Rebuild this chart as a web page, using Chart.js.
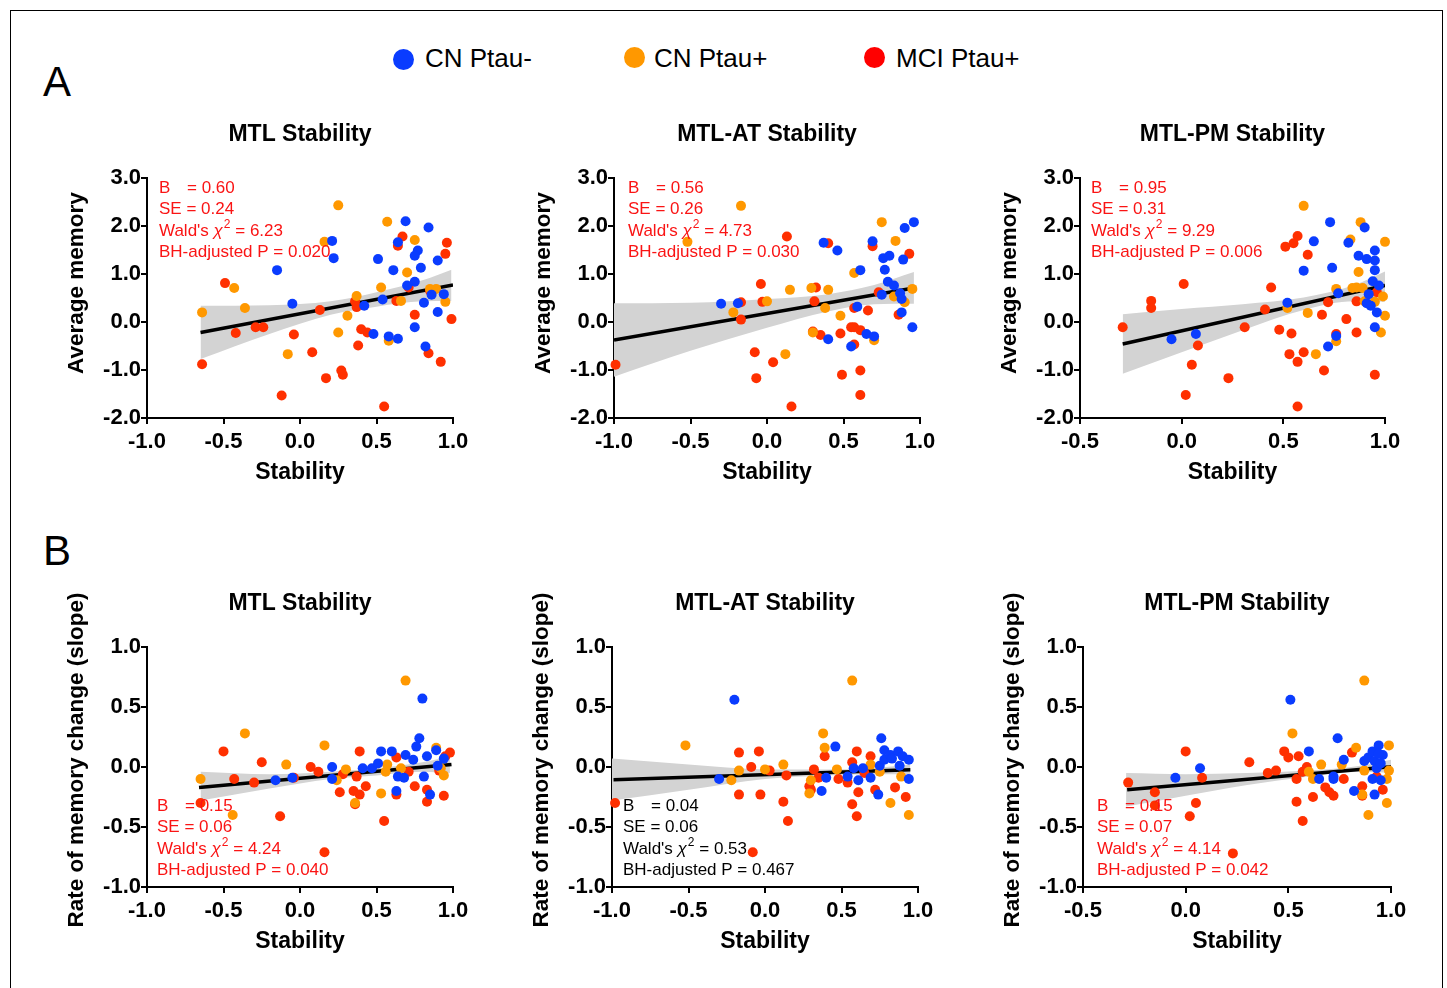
<!DOCTYPE html>
<html>
<head>
<meta charset="utf-8">
<script src="https://cdn.jsdelivr.net/npm/chart.js@4.4.1/dist/chart.umd.min.js"></script>
<style>
html, body { margin: 0; padding: 0; overflow: hidden; background: #fff; }
body { font-family: "Liberation Sans", Arial, Helvetica, sans-serif; width: 1447px; height: 988px; position: relative; }
#frame { position: absolute; left: 10px; top: 10px; width: 1431px; height: 1000px; border: 1.5px solid #000; border-bottom: none; }
canvas { position: absolute; }
.dot { position: absolute; width: 21px; height: 21px; border-radius: 50%; }
.lg { position: absolute; font-size: 26px; line-height: 30px; top: 43px; color: #000; }
.panel-letter { position: absolute; font-size: 42px; line-height: 42px; left: 43px; color: #000; }
</style>
</head>
<body>
<div id="frame"></div>
<div class="panel-letter" style="top:61px">A</div>
<div class="panel-letter" style="top:530px">B</div>
<div class="dot" style="left:393px;top:49px;background:#0a3cff"></div>
<div class="lg" style="left:425px">CN Ptau-</div>
<div class="dot" style="left:624px;top:47px;background:#ff9800"></div>
<div class="lg" style="left:654px">CN Ptau+</div>
<div class="dot" style="left:864px;top:47px;background:#ff0000"></div>
<div class="lg" style="left:896px">MCI Ptau+</div>

<script>
// group colours
var BLUE = '#0a3cff', ORANGE = '#ff9800', RED = '#ff3000';

// ---- A: average memory vs stability ----
var a1Blue = [[-0.15,1.08],[-0.05,0.38],[0.21,1.69],[0.22,1.33],[0.42,0.34],[0.48,-0.25],[0.51,1.31],[0.54,0.47],[0.58,-0.30],[0.61,1.08],[0.64,1.66],[0.64,-0.35],[0.69,2.10],[0.70,0.76],[0.75,0.84],[0.75,-0.11],[0.77,1.49],[0.75,1.38],[0.79,1.13],[0.81,0.40],[0.82,-0.51],[0.84,1.97],[0.86,0.57],[0.90,1.28],[0.90,0.21],[0.94,0.58]];
var a1Orange = [[-0.64,0.20],[-0.43,0.71],[-0.36,0.29],[-0.08,-0.67],[0.16,1.67],[0.25,2.43],[0.25,-0.22],[0.31,0.13],[0.37,0.54],[0.53,0.72],[0.57,2.09],[0.58,-0.39],[0.66,0.44],[0.70,1.03],[0.75,1.71],[0.85,0.69],[0.89,0.69],[0.95,0.42]];
var a1Red = [[-0.64,-0.88],[-0.49,0.81],[-0.42,-0.23],[-0.29,-0.11],[-0.24,-0.11],[-0.12,-1.53],[-0.04,-0.26],[0.08,-0.63],[0.13,0.25],[0.17,-1.17],[0.27,-1.01],[0.28,-1.10],[0.38,-0.49],[0.37,0.31],[0.40,-0.15],[0.44,-0.22],[0.55,-1.76],[0.63,0.44],[0.64,1.59],[0.67,1.78],[0.71,0.72],[0.75,0.15],[0.84,-0.65],[0.92,-0.83],[0.96,1.65],[0.95,1.42],[0.99,0.06],[0.36,0.43],[0.85,0.65]];
var a1Fit = [[-0.65,-0.22],[1.0,0.77]];
var a1BandX = [-0.65,-0.2,0.2,0.5,0.8,0.99];
var a1BandUp = [0.34,0.35,0.43,0.62,0.87,1.09];
var a1BandLo = [-0.77,-0.25,0.15,0.32,0.43,0.44];
var a1Stats = ['0.60','0.24','6.23','0.020'];

var a2Blue = [[-0.30,0.38],[-0.19,0.39],[0.37,1.65],[0.40,-0.36],[0.46,1.49],[0.55,-0.51],[0.59,0.32],[0.61,1.08],[0.65,-0.25],[0.70,-0.30],[0.69,1.68],[0.75,0.57],[0.76,1.33],[0.80,1.38],[0.77,1.09],[0.79,0.84],[0.83,0.76],[0.87,0.60],[0.88,0.48],[0.88,0.20],[0.89,1.30],[0.90,1.96],[0.95,-0.11],[0.96,2.08]];
var a2Orange = [[-0.52,1.67],[-0.17,2.42],[-0.22,0.20],[0.00,0.43],[0.15,0.67],[0.12,-0.67],[0.29,0.71],[0.30,-0.22],[0.40,0.67],[0.38,0.29],[0.48,0.13],[0.57,1.02],[0.70,-0.38],[0.75,2.08],[0.84,1.69],[0.83,0.53],[0.90,0.41],[0.95,0.69]];
var a2Red = [[-0.99,-0.89],[-0.17,0.41],[-0.17,0.05],[-0.04,0.79],[-0.03,0.42],[-0.08,-0.63],[-0.07,-1.17],[0.04,-0.84],[0.13,1.78],[0.16,-1.76],[0.31,0.43],[0.32,0.72],[0.35,-0.27],[0.40,1.64],[0.48,-0.24],[0.49,-1.10],[0.55,-0.11],[0.57,-0.11],[0.61,-0.17],[0.57,-0.47],[0.57,0.29],[0.61,-1.01],[0.61,-1.52],[0.66,0.24],[0.69,1.58],[0.73,0.62],[0.86,0.15],[0.93,1.42],[0.30,-0.20]];
var a2Fit = [[-1.0,-0.375],[0.96,0.71]];
var a2BandX = [-1.0,-0.5,0.0,0.4,0.7,0.96];
var a2BandUp = [0.39,0.40,0.48,0.58,0.77,1.04];
var a2BandLo = [-1.14,-0.60,-0.12,0.22,0.37,0.38];
var a2Stats = ['0.56','0.26','4.73','0.030'];

var a3Blue = [[-0.05,-0.36],[0.07,-0.25],[0.52,0.40],[0.60,1.07],[0.65,1.68],[0.73,2.08],[0.74,1.13],[0.72,-0.51],[0.76,-0.29],[0.77,0.60],[0.82,1.65],[0.87,1.38],[0.90,1.97],[0.91,1.31],[0.95,1.28],[0.95,1.49],[0.95,1.08],[0.94,0.85],[0.97,0.76],[0.92,0.58],[0.91,0.39],[0.93,0.34],[0.96,0.20],[0.95,-0.11]];
var a3Orange = [[0.52,0.29],[0.60,2.42],[0.62,0.19],[0.66,-0.67],[0.76,0.69],[0.76,-0.40],[0.83,1.72],[0.84,0.71],[0.86,0.72],[0.87,1.04],[0.88,2.08],[0.89,0.71],[0.90,0.43],[0.95,0.42],[0.98,-0.22],[0.99,0.53],[1.00,0.13],[1.00,1.67]];
var a3Red = [[-0.29,-0.11],[-0.15,0.44],[-0.15,0.29],[0.01,0.79],[0.02,-1.52],[0.05,-0.89],[0.08,-0.49],[0.23,-1.17],[0.31,-0.11],[0.41,0.26],[0.44,0.72],[0.48,-0.16],[0.51,1.57],[0.53,-0.67],[0.54,-0.24],[0.55,1.64],[0.57,1.79],[0.57,-0.83],[0.60,-0.63],[0.57,-1.76],[0.62,1.40],[0.69,0.15],[0.70,-1.01],[0.72,0.41],[0.76,-0.25],[0.81,0.06],[0.86,-0.22],[0.86,0.43],[0.95,-1.10],[0.96,0.62]];
var a3Fit = [[-0.29,-0.46],[1.0,0.76]];
var a3BandX = [-0.29,0.0,0.3,0.6,0.85,1.0];
var a3BandUp = [0.16,0.27,0.37,0.51,0.77,1.05];
var a3BandLo = [-1.08,-0.63,-0.17,0.25,0.43,0.42];
var a3Stats = ['0.95','0.31','9.29','0.006'];

// ---- B: rate of memory change vs stability ----
var b1Blue = [[-0.16,-0.11],[-0.05,-0.09],[0.21,0.00],[0.21,-0.10],[0.41,-0.01],[0.47,-0.01],[0.51,0.03],[0.53,0.13],[0.60,0.13],[0.63,-0.20],[0.64,-0.08],[0.68,-0.09],[0.69,0.10],[0.74,0.06],[0.76,0.17],[0.78,0.24],[0.80,0.57],[0.81,-0.08],[0.83,0.09],[0.85,-0.23],[0.89,0.14],[0.90,0.01],[0.94,0.07]];
var b1Orange = [[-0.65,-0.10],[-0.44,-0.40],[-0.36,0.28],[-0.09,0.02],[0.16,0.18],[0.24,-0.11],[0.30,-0.02],[0.36,-0.30],[0.53,-0.22],[0.56,-0.04],[0.57,0.02],[0.66,-0.01],[0.69,0.72],[0.89,0.16],[0.94,-0.07],[0.92,-0.01]];
var b1Red = [[-0.65,-0.30],[-0.50,0.13],[-0.43,-0.10],[-0.30,-0.13],[-0.25,0.04],[-0.13,-0.41],[-0.04,-0.09],[0.07,0.00],[0.12,-0.04],[0.16,-0.71],[0.26,-0.21],[0.28,-0.06],[0.35,-0.20],[0.36,-0.31],[0.37,-0.08],[0.39,-0.23],[0.39,0.13],[0.43,-0.16],[0.55,-0.45],[0.63,-0.23],[0.63,0.08],[0.71,-0.04],[0.75,-0.16],[0.83,-0.29],[0.83,-0.19],[0.91,-0.03],[0.94,-0.24],[0.95,0.09],[0.98,0.12]];
var b1Fit = [[-0.66,-0.17],[0.99,0.02]];
var b1BandX = [-0.65,-0.2,0.2,0.5,0.8,0.98];
var b1BandUp = [-0.04,-0.06,-0.04,-0.01,0.04,0.09];
var b1BandLo = [-0.28,-0.18,-0.10,-0.07,-0.04,-0.05];
var b1Stats = ['0.15','0.06','4.24','0.040'];

var b2Blue = [[-0.20,0.56],[-0.30,-0.10],[0.37,-0.20],[0.40,-0.09],[0.46,0.17],[0.54,-0.08],[0.58,-0.01],[0.61,-0.11],[0.64,-0.01],[0.69,-0.09],[0.74,-0.23],[0.75,0.01],[0.76,0.24],[0.78,0.14],[0.78,0.06],[0.82,0.10],[0.83,0.07],[0.87,0.13],[0.88,0.01],[0.90,0.09],[0.94,0.06],[0.94,-0.10]];
var b2Orange = [[-0.52,0.18],[-0.22,-0.11],[-0.17,-0.03],[0.00,-0.02],[0.12,0.02],[0.29,-0.22],[0.30,-0.11],[0.38,0.28],[0.39,0.16],[0.47,-0.02],[0.57,0.72],[0.69,0.02],[0.75,-0.04],[0.82,-0.30],[0.89,-0.08],[0.94,-0.40]];
var b2Red = [[-0.98,-0.30],[-0.17,0.12],[-0.17,-0.23],[-0.09,0.00],[-0.04,0.13],[-0.03,-0.23],[0.03,-0.03],[-0.08,-0.71],[0.12,-0.29],[0.14,-0.07],[0.15,-0.45],[0.29,-0.16],[0.30,-0.19],[0.32,-0.02],[0.35,-0.09],[0.39,0.09],[0.48,-0.10],[0.54,-0.13],[0.57,0.04],[0.57,-0.31],[0.60,0.13],[0.60,-0.41],[0.61,-0.21],[0.65,-0.05],[0.69,0.09],[0.72,-0.19],[0.85,-0.17],[0.92,-0.25]];
var b2Fit = [[-0.99,-0.106],[0.95,-0.022]];
var b2BandX = [-1.0,-0.5,0.0,0.4,0.7,0.95];
var b2BandUp = [0.07,0.02,-0.02,-0.02,-0.01,0.02];
var b2BandLo = [-0.28,-0.19,-0.10,-0.07,-0.06,-0.06];
var b2Stats = ['0.04','0.06','0.53','0.467'];

var b3Blue = [[-0.05,-0.09],[0.07,-0.01],[0.51,0.56],[0.60,0.13],[0.65,-0.10],[0.72,-0.08],[0.72,-0.10],[0.74,0.24],[0.77,0.06],[0.82,-0.20],[0.87,0.05],[0.89,0.08],[0.91,0.13],[0.91,-0.10],[0.92,-0.23],[0.92,0.05],[0.93,-0.01],[0.94,0.18],[0.95,0.03],[0.95,-0.11],[0.96,0.10],[0.94,0.11]];
var b3Orange = [[0.52,0.28],[0.60,-0.04],[0.62,-0.10],[0.66,0.02],[0.76,0.02],[0.83,0.16],[0.86,-0.23],[0.87,0.72],[0.87,-0.03],[0.89,-0.40],[0.98,-0.10],[0.98,-0.30],[0.99,-0.03],[0.99,0.18]];
var b3Red = [[-0.28,-0.13],[-0.15,-0.21],[-0.15,-0.32],[0.00,0.13],[0.02,-0.41],[0.05,-0.30],[0.08,-0.09],[0.23,-0.72],[0.31,0.04],[0.40,-0.05],[0.44,-0.03],[0.48,0.13],[0.50,0.08],[0.54,-0.29],[0.55,0.09],[0.54,-0.10],[0.57,-0.45],[0.57,-0.04],[0.59,0.00],[0.62,-0.25],[0.68,-0.17],[0.70,-0.21],[0.72,-0.24],[0.77,-0.10],[0.81,0.12],[0.86,-0.16],[0.86,-0.24],[0.96,-0.19],[0.93,-0.08]];
var b3Fit = [[-0.285,-0.19],[1.0,0.003]];
var b3BandX = [-0.29,0.0,0.3,0.6,0.85,1.0];
var b3BandUp = [-0.05,-0.06,-0.05,-0.03,0.01,0.06];
var b3BandLo = [-0.33,-0.24,-0.15,-0.08,-0.04,-0.05];
var b3Stats = ['0.15','0.07','4.14','0.042'];

var FONT = '"Liberation Sans", Arial, Helvetica, sans-serif';
var STAT_RED = 'rgb(250,20,20)';

// layout: area = plot rectangle on the page [left, top, right, bottom]
var panels = [
  {area:[147,178,453,418], x:[-1,1], y:[-2,3,1], title:'MTL Stability', yTitle:'Average memory', yMid:283,
   blue:a1Blue, orange:a1Orange, red:a1Red, fit:a1Fit, bx:a1BandX, bu:a1BandUp, bl:a1BandLo, stats:a1Stats, statAt:[159,188], statColor:STAT_RED},
  {area:[614,178,920,418], x:[-1,1], y:[-2,3,1], title:'MTL-AT Stability', yTitle:'Average memory', yMid:283,
   blue:a2Blue, orange:a2Orange, red:a2Red, fit:a2Fit, bx:a2BandX, bu:a2BandUp, bl:a2BandLo, stats:a2Stats, statAt:[628,188], statColor:STAT_RED},
  {area:[1080,178,1385,418], x:[-0.5,1], y:[-2,3,1], title:'MTL-PM Stability', yTitle:'Average memory', yMid:283,
   blue:a3Blue, orange:a3Orange, red:a3Red, fit:a3Fit, bx:a3BandX, bu:a3BandUp, bl:a3BandLo, stats:a3Stats, statAt:[1091,188], statColor:STAT_RED},
  {area:[147,647,453,887], x:[-1,1], y:[-1,1,0.5], title:'MTL Stability', yTitle:'Rate of memory change (slope)', yMid:760,
   blue:b1Blue, orange:b1Orange, red:b1Red, fit:b1Fit, bx:b1BandX, bu:b1BandUp, bl:b1BandLo, stats:b1Stats, statAt:[157,806], statColor:STAT_RED},
  {area:[612,647,918,887], x:[-1,1], y:[-1,1,0.5], title:'MTL-AT Stability', yTitle:'Rate of memory change (slope)', yMid:760,
   blue:b2Blue, orange:b2Orange, red:b2Red, fit:b2Fit, bx:b2BandX, bu:b2BandUp, bl:b2BandLo, stats:b2Stats, statAt:[623,806], statColor:'#000'},
  {area:[1083,647,1391,887], x:[-0.5,1], y:[-1,1,0.5], title:'MTL-PM Stability', yTitle:'Rate of memory change (slope)', yMid:760,
   blue:b3Blue, orange:b3Orange, red:b3Red, fit:b3Fit, bx:b3BandX, bu:b3BandUp, bl:b3BandLo, stats:b3Stats, statAt:[1097,806], statColor:STAT_RED}
];

function xy(arr) { return arr.map(function (p) { return {x: p[0], y: p[1]}; }); }
function zipXY(xs, ys) { return xs.map(function (v, i) { return {x: v, y: ys[i]}; }); }

function pointSet(data, color, order) {
  return {type: 'scatter', data: xy(data), backgroundColor: color, borderColor: color,
          pointRadius: 5, pointBorderWidth: 0, pointHoverRadius: 5, clip: false, order: order};
}

function drawStats(ctx, x, y, v, color) {
  var f = '17px ' + FONT, dy = 21.5;
  ctx.save();
  ctx.fillStyle = color; ctx.textBaseline = 'middle'; ctx.textAlign = 'left';
  ctx.font = f;
  ctx.fillText('B', x, y);
  ctx.fillText('= ' + v[0], x + 28, y);
  ctx.fillText('SE = ' + v[1], x, y + dy);
  var y3 = y + 2 * dy;
  ctx.fillText("Wald's ", x, y3);
  var cx = x + ctx.measureText("Wald's ").width;
  ctx.font = 'italic 17px ' + FONT;
  ctx.fillText('\u03C7', cx, y3);
  cx += ctx.measureText('\u03C7').width + 1;
  ctx.font = '12px ' + FONT;
  ctx.fillText('2', cx, y3 - 6);
  cx += ctx.measureText('2').width;
  ctx.font = f;
  ctx.fillText(' = ' + v[2], cx, y3);
  ctx.fillText('BH-adjusted P = ' + v[3], x, y + 3 * dy);
  ctx.restore();
}

function makePanel(p) {
  var L = p.area[0] - 100, T = p.area[1] - 75;
  var W = p.area[2] - p.area[0] + 130, H = p.area[3] - p.area[1] + 150;
  var cv = document.createElement('canvas');
  cv.width = W; cv.height = H;
  cv.style.left = L + 'px'; cv.style.top = T + 'px';
  cv.style.width = W + 'px'; cv.style.height = H + 'px';
  document.body.appendChild(cv);

  var fmt = function (v) { return Number(v).toFixed(1); };
  var axisCommon = {
    grid: {display: true, drawOnChartArea: false, drawTicks: true, tickLength: 6,
           tickColor: '#000', tickWidth: 2, color: '#000', lineWidth: 2},
    border: {display: true, color: '#000', width: 2}
  };

  var textPlugin = {
    id: 'panelText',
    afterDatasetsDraw: function (chart) {
      drawStats(chart.ctx, p.statAt[0] - L, p.statAt[1] - T, p.stats, p.statColor);
    },
    afterDraw: function (chart) {
      var ctx = chart.ctx;
      ctx.save();
      ctx.translate(p.area[0] - 70 - L, p.yMid - T);
      ctx.rotate(-Math.PI / 2);
      ctx.font = 'bold 22.5px ' + FONT;
      ctx.fillStyle = '#000'; ctx.textAlign = 'center'; ctx.textBaseline = 'middle';
      ctx.fillText(p.yTitle, 0, 0);
      ctx.restore();
    }
  };

  new Chart(cv.getContext('2d'), {
    type: 'scatter',
    data: {
      datasets: [
        pointSet(p.blue, BLUE, 0),
        pointSet(p.orange, ORANGE, 1),
        pointSet(p.red, RED, 2),
        {type: 'line', data: xy(p.fit), borderColor: '#000', borderWidth: 3.5,
         pointRadius: 0, fill: false, order: 3},
        {type: 'line', data: zipXY(p.bx, p.bu), borderColor: 'rgba(0,0,0,0)', borderWidth: 0,
         backgroundColor: 'rgb(211,211,211)', pointRadius: 0, fill: '+1', order: 4,
         cubicInterpolationMode: 'monotone'},
        {type: 'line', data: zipXY(p.bx, p.bl), borderColor: 'rgba(0,0,0,0)', borderWidth: 0,
         pointRadius: 0, fill: false, order: 5, cubicInterpolationMode: 'monotone'}
      ]
    },
    options: {
      responsive: false,
      animation: false,
      devicePixelRatio: 1,
      layout: {padding: {left: 0, top: 0, right: 30, bottom: 0}},
      plugins: {
        legend: {display: false},
        tooltip: {enabled: false},
        // fullSize false keeps the title centred over the plot area only
        title: {display: true, text: p.title, color: '#000', fullSize: false,
                font: {family: FONT, size: 23, weight: 'bold', lineHeight: 1.2},
                padding: {top: 18, bottom: 29.4}}
      },
      scales: {
        x: Object.assign({
          type: 'linear', min: p.x[0], max: p.x[1],
          ticks: {stepSize: 0.5, callback: fmt, color: '#000', padding: 5, maxRotation: 0, autoSkip: false,
                  font: {family: FONT, size: 22, weight: 'bold'}},
          title: {display: true, text: 'Stability', color: '#000',
                  font: {family: FONT, size: 23, weight: 'bold', lineHeight: 1.2},
                  padding: {top: 0, bottom: 7}},
          afterFit: function (s) { s.height = 75; s.paddingLeft = 0; s.paddingRight = 0; }
        }, axisCommon),
        y: Object.assign({
          type: 'linear', min: p.y[0], max: p.y[1],
          ticks: {stepSize: p.y[2], callback: fmt, color: '#000', padding: 0, autoSkip: false,
                  font: {family: FONT, size: 22, weight: 'bold'}},
          afterFit: function (s) { s.width = 100; s.paddingTop = 0; s.paddingBottom = 0; }
        }, axisCommon)
      }
    },
    plugins: [textPlugin]
  });
}

panels.forEach(makePanel);
</script>
</body>
</html>
